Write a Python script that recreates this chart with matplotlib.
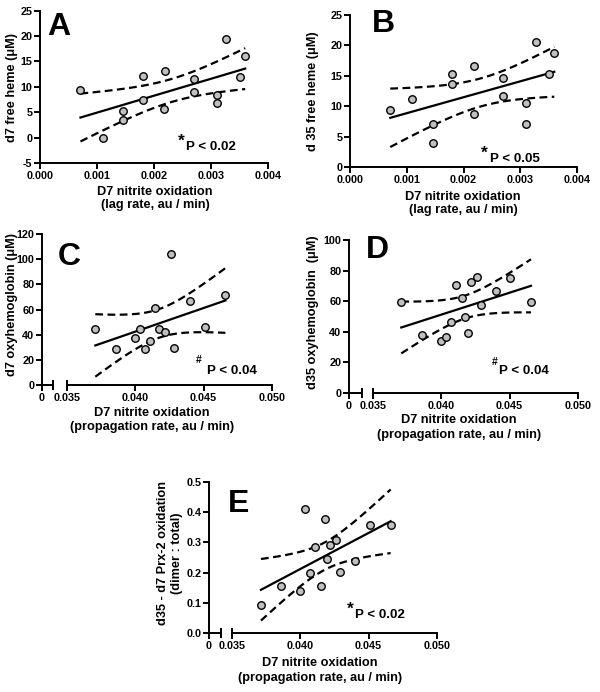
import numpy as np
import matplotlib
matplotlib.use("Agg")
import matplotlib.pyplot as plt

plt.rcParams['font.family'] = ['Liberation Sans', 'DejaVu Sans']
plt.rcParams['font.weight'] = 'bold'
plt.rcParams['axes.unicode_minus'] = False

# ---------------- data ----------------
lag_rate = [0.00071, 0.00110, 0.00146, 0.00146, 0.00180, 0.00180, 0.00219, 0.00218,
            0.00270, 0.00270, 0.00310, 0.00310, 0.00327, 0.00350, 0.00360]
d7_heme = [9.35, 0.0, 5.2, 3.5, 12.1, 7.5, 13.1, 5.7, 11.6, 8.9, 8.3, 6.8, 19.5, 11.9, 16.0]
d35_heme = [9.3, 11.2, 7.1, 4.0, 15.3, 13.6, 16.6, 8.7, 14.6, 11.7, 10.5, 7.1, 20.5, 15.3, 18.8]

prop_rate_c = [0.03707, 0.03856, 0.03998, 0.04037, 0.04068, 0.04105, 0.04144, 0.04176,
               0.04217, 0.04259, 0.04285, 0.04398, 0.04510, 0.04659]
d7_oxyhb = [44.8, 28.3, 37.1, 44.8, 28.3, 35.2, 60.9, 44.8, 42.4, 104.4, 29.4, 66.5, 46.1, 71.8]

prop_rate = [0.03707, 0.03856, 0.03995, 0.04037, 0.04068, 0.04105, 0.04149, 0.04176,
             0.04198, 0.04217, 0.04259, 0.04288, 0.04400, 0.04505, 0.04656]
d35_oxyhb = [59.8, 38.2, 34.1, 36.7, 46.1, 70.7, 62.0, 49.6, 38.9, 72.7, 75.5, 57.6, 66.6, 75.1, 59.8]

prop_rate_e = [0.03712, 0.03860, 0.04001, 0.04037, 0.04072, 0.04106, 0.04152, 0.04179,
               0.04198, 0.04220, 0.04259, 0.04291, 0.04400, 0.04507, 0.04661]
prx2_ox = [0.094, 0.154, 0.139, 0.411, 0.199, 0.286, 0.154, 0.379, 0.244, 0.291, 0.308,
           0.203, 0.238, 0.356, 0.358]

# ---------------- helpers ----------------
W, H = 600, 692
fig = plt.figure(figsize=(W / 100, H / 100), dpi=100)

T975 = {12: 2.179, 13: 2.160}
MFACE = '#c0c0c0'
TICK_FS = 7.8
LABEL_FS = 9.2
P_FS = 9.6


def rect(l, r, t, b):
    return [l / W, 1 - b / H, (r - l) / W, (b - t) / H]


def fx(px):
    return px / W


def fy(py):
    return 1 - py / H


def style(ax, left=True):
    for s in ['top', 'right']:
        ax.spines[s].set_visible(False)
    ax.spines['left'].set_visible(left)
    for s in ['left', 'bottom']:
        ax.spines[s].set_linewidth(1.4)
    ax.tick_params(direction='out', length=4, width=1.4, labelsize=TICK_FS, pad=1.5)
    for lab in ax.get_xticklabels() + ax.get_yticklabels():
        lab.set_fontweight('bold')
    ax.patch.set_alpha(0)


def fit_plot(ax, x, y):
    x = np.asarray(x, float)
    y = np.asarray(y, float)
    n = len(x)
    b, a = np.polyfit(x, y, 1)
    xs = np.linspace(x.min(), x.max(), 100)
    yh = a + b * xs
    res = y - (a + b * x)
    s = np.sqrt(np.sum(res ** 2) / (n - 2))
    sxx = np.sum((x - x.mean()) ** 2)
    se = s * np.sqrt(1 / n + (xs - x.mean()) ** 2 / sxx)
    t = T975[n - 2]
    ax.plot(xs, yh, color='black', lw=1.6, zorder=2)
    ax.plot(xs, yh + t * se, color='black', lw=1.6, dashes=(3.5, 2), zorder=2)
    ax.plot(xs, yh - t * se, color='black', lw=1.6, dashes=(3.5, 2), zorder=2)
    ax.plot(x, y, 'o', ms=5.4, mfc=MFACE, mec='black', mew=1.0, zorder=3, clip_on=False)


def simple_panel(l, r, t, b, x, y, xlim, ylim, xticks, yticks):
    ax = fig.add_axes(rect(l, r, t, b))
    fit_plot(ax, x, y)
    ax.set_xlim(*xlim)
    ax.set_ylim(*ylim)
    ax.set_xticks(xticks)
    ax.set_xticklabels(['%.3f' % v for v in xticks])
    ax.set_yticks(yticks)
    ax.set_yticklabels(['%d' % v for v in yticks])
    style(ax)
    return ax


def broken_panel(yaxis_px, break_px, l, r, t, b, x, y, ylim, yticks, yfmt):
    axL = fig.add_axes(rect(yaxis_px, break_px, t, b))
    axL.set_xlim(0, 1)
    axL.set_ylim(*ylim)
    axL.set_xticks([0])
    axL.set_xticklabels(['0'])
    axL.set_yticks(yticks)
    axL.set_yticklabels([yfmt(v) for v in yticks])
    style(axL)
    axL.plot([1], [ylim[0]], marker='|', ms=7, mew=1.4, color='black', clip_on=False)

    ax = fig.add_axes(rect(l, r, t, b))
    fit_plot(ax, x, y)
    ax.set_xlim(0.035, 0.050)
    ax.set_ylim(*ylim)
    xt = [0.035, 0.040, 0.045, 0.050]
    ax.set_xticks(xt)
    ax.set_xticklabels(['%.3f' % v for v in xt])
    ax.set_yticks([])
    style(ax, left=False)
    ax.plot([0.035], [ylim[0]], marker='|', ms=7, mew=1.4, color='black', clip_on=False)
    return ax


def letter(px, py, s):
    fig.text(fx(px), fy(py), s, fontsize=23, fontweight='bold', ha='left', va='baseline')


def ptext(sym_px, sym_py, sym, sym_size, p_px, p_py, s):
    fig.text(fx(sym_px), fy(sym_py), sym, fontsize=sym_size, fontweight='bold',
             ha='left', va='baseline')
    fig.text(fx(p_px), fy(p_py), s, fontsize=P_FS, fontweight='bold', ha='left', va='baseline')


def xlabel2(cx, y1, y2, l1, l2):
    fig.text(fx(cx), fy(y1), l1, fontsize=LABEL_FS, fontweight='bold', ha='center', va='center')
    fig.text(fx(cx), fy(y2), l2, fontsize=LABEL_FS, fontweight='bold', ha='center', va='center')


def ylabel(cx, cy, s):
    fig.text(fx(cx), fy(cy), s, fontsize=LABEL_FS, fontweight='bold', ha='center', va='center',
             rotation=90)


# ---------------- Panel A ----------------
simple_panel(40, 268, 10.7, 163, lag_rate, d7_heme, (0, 0.004), (-5, 25),
             [0, 0.001, 0.002, 0.003, 0.004], [-5, 0, 5, 10, 15, 20, 25])
letter(47, 35, 'A')
ptext(178, 146, '*', 12.5, 186, 150, 'P < 0.02')
xlabel2(155, 192, 205, 'D7 nitrite oxidation', '(lag rate, au / min)')
ylabel(12, 87, 'd7 free heme (\u03bcM)')

# ---------------- Panel B ----------------
simple_panel(350, 577, 15, 167, lag_rate, d35_heme, (0, 0.004), (0, 25),
             [0, 0.001, 0.002, 0.003, 0.004], [0, 5, 10, 15, 20, 25])
letter(372, 32, 'B')
ptext(481, 158, '*', 12.5, 490, 162, 'P < 0.05')
xlabel2(463, 197, 210, 'D7 nitrite oxidation', '(lag rate, au / min)')
ylabel(313, 91, 'd 35 free heme (\u03bcM)')

# ---------------- Panel C ----------------
broken_panel(42, 53, 67, 272, 234, 385, prop_rate_c, d7_oxyhb, (0, 120),
             [0, 20, 40, 60, 80, 100, 120], lambda v: '%d' % v)
letter(58, 265, 'C')
ptext(196, 363, '#', 7.5, 207, 374, 'P < 0.04')
xlabel2(152, 413, 427, 'D7 nitrite oxidation', '(propagation rate, au / min)')
ylabel(12, 305, 'd7 oxyhemoglobin (\u03bcM)')

# ---------------- Panel D ----------------
broken_panel(349, 362, 373, 578, 240, 393, prop_rate, d35_oxyhb, (0, 100),
             [0, 20, 40, 60, 80, 100], lambda v: '%d' % v)
letter(366, 258, 'D')
ptext(492, 365, '#', 7.5, 499, 374, 'P < 0.04')
xlabel2(459, 420, 435, 'D7 nitrite oxidation', '(propagation rate, au / min)')
ylabel(313, 312, 'd35 oxyhemoglobin  (\u03bcM)')

# ---------------- Panel E ----------------
broken_panel(209, 221, 232, 437, 482, 633, prop_rate_e, prx2_ox, (0, 0.5),
             [0, 0.1, 0.2, 0.3, 0.4, 0.5], lambda v: '%.1f' % v)
letter(228, 512, 'E')
ptext(347, 614, '*', 12.5, 355, 618, 'P < 0.02')
xlabel2(320, 663, 678, 'D7 nitrite oxidation', '(propagation rate, au / min)')
ylabel(163, 553, 'd35 - d7 Prx-2 oxidation')
ylabel(177, 553, '(dimer : total)')

fig.savefig('out.png', dpi=100)
